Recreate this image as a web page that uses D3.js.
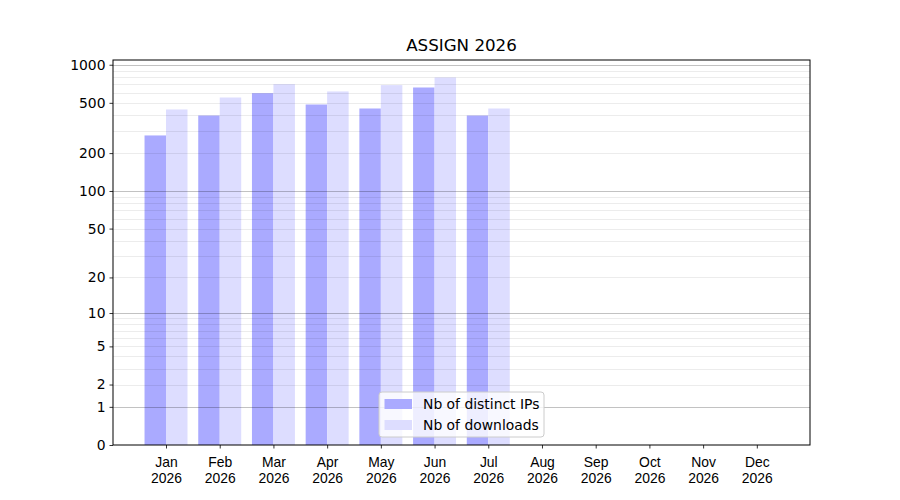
<!DOCTYPE html>
<html>
<head>
<meta charset="utf-8">
<script src="https://cdn.jsdelivr.net/npm/d3@7"></script>
<style>
  body { margin: 0; background: #fff; }
  svg { font-family: "DejaVu Sans", sans-serif; }
</style>
</head>
<body>
<svg id="chart"></svg>
<script>
// Chart data
const months = ["Jan", "Feb", "Mar", "Apr", "May", "Jun", "Jul", "Aug", "Sep", "Oct", "Nov", "Dec"];
const year = "2026";
const distinctIPs = [276, 397, 596, 485, 451, 661, 397];
const downloads = [443, 551, 702, 615, 690, 793, 451];
const yTicks = [0, 1, 2, 5, 10, 20, 50, 100, 200, 500, 1000];
const majorGrid = [1, 10, 100, 1000];
const minorGrid = [2, 3, 4, 5, 6, 7, 8, 9, 20, 30, 40, 50, 60, 70, 80, 90, 200, 300, 400, 500, 600, 700, 800, 900];
const seriesNames = ["Nb of distinct IPs", "Nb of downloads"];

const width = 900, height = 500;
const margin = {top: 60, right: 90, bottom: 55, left: 113};
const innerW = width - margin.left - margin.right;
const innerH = height - margin.top - margin.bottom;
const colors = ["#aaaaff", "#ddddff"];

const svg = d3.select("#chart")
    .attr("width", width)
    .attr("height", height);

const chart = svg.append("g")
    .attr("transform", `translate(${margin.left},${margin.top})`);

const x = d3.scaleLinear()
    .domain([-0.987, 11.99])
    .range([0, innerW]);

const y = d3.scaleSymlog()
    .constant(1)
    .domain([0, 1090])
    .range([innerH, 0]);

const barW = x(0.4) - x(0);

// Bars
const series = [distinctIPs, downloads];
series.forEach((vals, s) => {
    chart.append("g")
        .selectAll("rect")
        .data(vals)
        .join("rect")
        .attr("x", (d, i) => s === 0 ? x(i) - barW : x(i))
        .attr("y", d => y(d))
        .attr("width", barW)
        .attr("height", d => y(0) - y(d))
        .attr("fill", colors[s]);
});

// Grid lines (drawn over the bars)
chart.append("g")
    .selectAll("line")
    .data(minorGrid)
    .join("line")
    .attr("x1", 0).attr("x2", innerW)
    .attr("y1", d => Math.round(y(d)) + 0.5)
    .attr("y2", d => Math.round(y(d)) + 0.5)
    .attr("stroke", "#000")
    .attr("stroke-opacity", 0.075);

chart.append("g")
    .selectAll("line")
    .data(majorGrid)
    .join("line")
    .attr("x1", 0).attr("x2", innerW)
    .attr("y1", d => Math.round(y(d)) + 0.5)
    .attr("y2", d => Math.round(y(d)) + 0.5)
    .attr("stroke", "#000")
    .attr("stroke-opacity", 0.24);

// Axes
const yAxis = d3.axisLeft(y)
    .tickValues(yTicks)
    .tickFormat(d3.format("d"))
    .tickSize(3.5)
    .tickPadding(4);

const yAxisG = chart.append("g").call(yAxis);

const xAxis = d3.axisBottom(x)
    .tickValues(d3.range(months.length))
    .tickFormat("")
    .tickSize(3.5);

const xAxisG = chart.append("g")
    .attr("transform", `translate(0,${innerH})`)
    .call(xAxis);

[yAxisG, xAxisG].forEach(g => {
    g.select(".domain").remove();
    g.selectAll(".tick line").attr("stroke", "#000").attr("stroke-width", 0.8);
    g.selectAll("text").attr("font-size", 13.9).attr("fill", "#000")
        .attr("font-family", "DejaVu Sans");
});

xAxisG.selectAll(".tick")
    .append("text")
    .attr("text-anchor", "middle")
    .attr("font-size", 13.9)
    .attr("fill", "#000")
    .selectAll("tspan")
    .data((d) => [months[d], year])
    .join("tspan")
    .attr("x", 0)
    .attr("y", (d, i) => 22 + i * 15.5)
    .text(d => d);

// Frame
chart.append("rect")
    .attr("x", 0).attr("y", 0)
    .attr("width", innerW).attr("height", innerH)
    .attr("fill", "none")
    .attr("stroke", "#000")
    .attr("stroke-width", 1);

// Title
svg.append("text")
    .attr("x", margin.left + innerW / 2)
    .attr("y", 51)
    .attr("text-anchor", "middle")
    .attr("font-size", 16.7)
    .text("ASSIGN " + year);

// Legend (lower center)
const legW = 165, legH = 45;
const legend = chart.append("g")
    .attr("transform", `translate(${innerW / 2 - legW / 2},${innerH - 8 - legH})`);

legend.append("rect")
    .attr("width", legW).attr("height", legH)
    .attr("rx", 3)
    .attr("fill", "#fff").attr("fill-opacity", 0.8)
    .attr("stroke", "#ccc");

seriesNames.forEach((name, i) => {
    legend.append("rect")
        .attr("x", 5.5).attr("y", 7 + i * 21)
        .attr("width", 27.5).attr("height", 10)
        .attr("fill", colors[i]);
    legend.append("text")
        .attr("x", 44).attr("y", 17 + i * 21)
        .attr("font-size", 13.9)
        .text(name);
});
</script>
</body>
</html>
